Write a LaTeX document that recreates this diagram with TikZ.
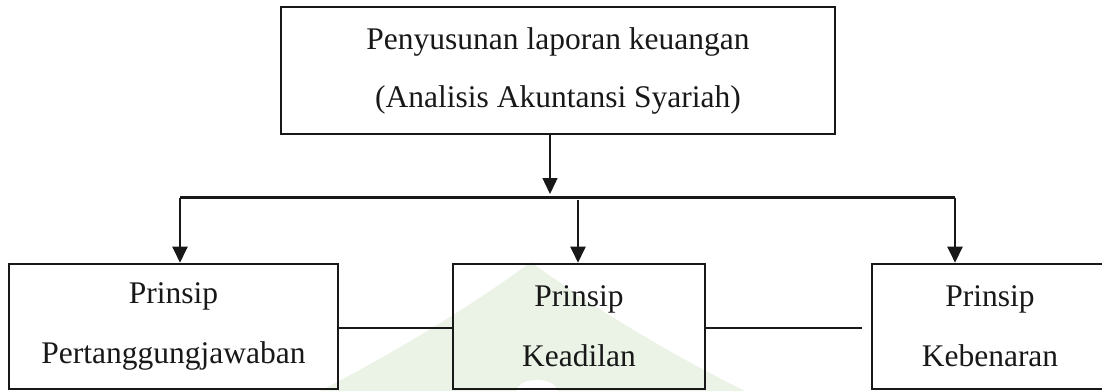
\documentclass[tikz,border=0pt]{standalone}
\usepackage{fontspec}
\setmainfont{Liberation Serif}
\usetikzlibrary{arrows.meta}
\definecolor{ink}{RGB}{24,24,24}
\definecolor{wmgreen}{RGB}{234,243,230}
\begin{document}
\begin{tikzpicture}[x=1pt,y=-1pt,
  box/.style={draw=ink,line width=2.6pt,inner sep=0pt,align=center,text=ink,
    font=\fontsize{31.5}{60}\selectfont},
  link/.style={draw=ink,line width=2.3pt},
  thinarrow/.style={draw=ink,line width=1.4pt,-{Triangle[width=15pt,length=16pt]}},
  arrow/.style={link,-{Triangle[width=15pt,length=16pt]}}]
\useasboundingbox (0,0) rectangle (1102,391);
\clip (0,0) rectangle (1102,391);

% faint emblem in the background
\fill[wmgreen] (320,391) .. controls (400,350) and (480,300) .. (531,262)
  .. controls (582,300) and (662,350) .. (745,391) -- cycle;
\fill[white] (516,391) .. controls (520,382) and (528,380) .. (537,380)
  .. controls (546,380) and (554,382) .. (558,391) -- cycle;

% boxes
\node[box,minimum width=554pt,minimum height=127pt,
  font=\fontsize{31.5}{58}\selectfont] (top) at (558,70.5)
  {Penyusunan laporan keuangan\\ (Analisis Akuntansi Syariah)};
\node[box,minimum width=329pt,minimum height=125pt] (left) at (173.5,326.5)
  {Prinsip\\Pertanggungjawaban};
\node[box,minimum width=252pt,minimum height=125pt] (mid) at (579,326.5)
  {Prinsip\\Keadilan};
\node[box,minimum width=236pt,minimum height=125pt] (right) at (990,326.5)
  {Prinsip\\Kebenaran};

% branching connectors
\coordinate (drop) at (550,194);
\coordinate (barL) at (180,197.5);
\coordinate (barR) at (955,197.5);
\coordinate (midTop) at (578,200);
\coordinate (rEnd) at (862,328);

\draw[thinarrow] (top.south -| drop) -- (drop);
\draw[link] (barL) -- (barR);
\draw[arrow] (barL) -- (left.north -| barL);
\draw[arrow] (midTop) -- (mid.north -| midTop);
\draw[arrow] (barR) -- (right.north -| barR);

% side links between the principles
\draw[link] ([yshift=-1.5pt]left.east) -- ([yshift=-1.5pt]mid.west);
\draw[link] ([yshift=-1.5pt]mid.east) -- (rEnd);
\end{tikzpicture}
\end{document}
